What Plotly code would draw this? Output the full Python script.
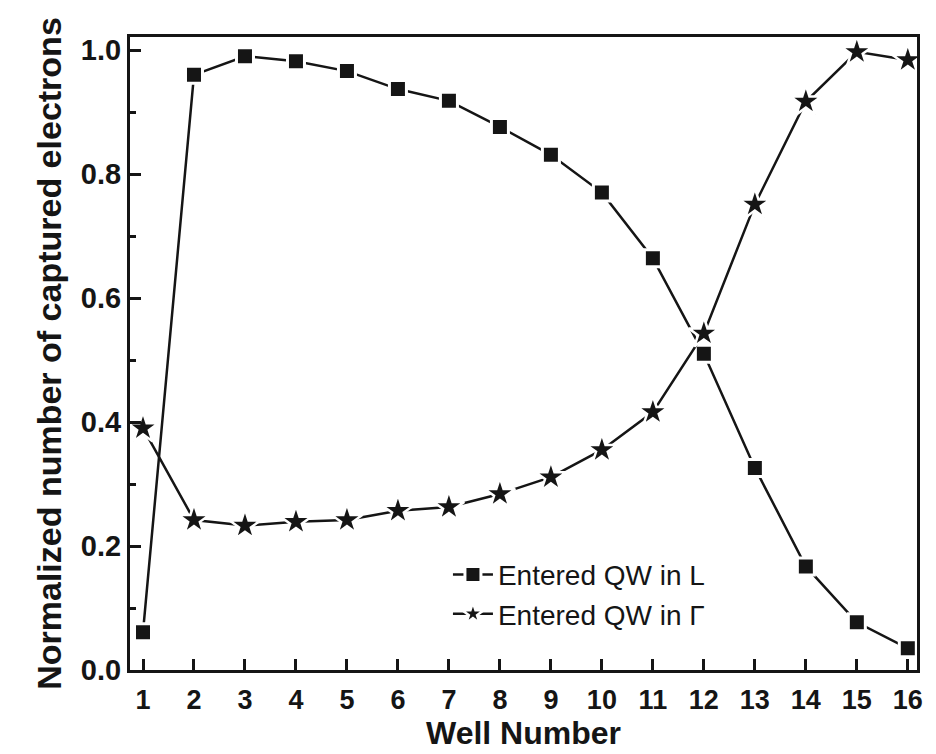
import plotly.graph_objects as go

# Well index along the structure
wells = list(range(1, 17))

# Normalized captured electrons: carriers entering the QW in the L valley
entered_L = [0.061, 0.960, 0.990, 0.982, 0.966, 0.937, 0.918, 0.876,
             0.831, 0.770, 0.664, 0.510, 0.326, 0.167, 0.077, 0.035]

# Normalized captured electrons: carriers entering the QW in the Gamma valley
entered_G = [0.390, 0.242, 0.233, 0.239, 0.242, 0.257, 0.263, 0.284,
             0.311, 0.355, 0.416, 0.543, 0.751, 0.917, 0.997, 0.984]

series_names = ["Entered QW in L", "Entered QW in \u0393"]

ink = "#151515"
font_family = "Liberation Sans, Arial, sans-serif"

fig = go.Figure()
fig.add_trace(go.Scatter(
    x=wells, y=entered_L, name=series_names[0], mode="lines+markers",
    line=dict(color=ink, width=2.5),
    marker=dict(symbol="square", size=17, color=ink,
                line=dict(color="white", width=3)),
))
fig.add_trace(go.Scatter(
    x=wells, y=entered_G, name=series_names[1], mode="lines+markers",
    line=dict(color=ink, width=2.5),
    marker=dict(symbol="star", size=23, color=ink,
                line=dict(color="white", width=2.5)),
))

fig.update_layout(
    width=936, height=754,
    margin=dict(l=130, r=19, t=37, b=81),
    paper_bgcolor="white", plot_bgcolor="white",
    font=dict(family=font_family, color=ink),
    showlegend=True,
    legend=dict(
        x=0.404, y=0.19, xanchor="left", yanchor="top",
        bgcolor="rgba(0,0,0,0)", borderwidth=0,
        font=dict(size=28, family=font_family, color=ink),
        tracegroupgap=0, itemwidth=40,
    ),
)

fig.update_xaxes(
    range=[0.745, 16.18], tickmode="array", tickvals=wells,
    ticktext=[str(w) for w in wells],
    ticks="inside", ticklen=11, tickwidth=2.5, tickcolor=ink,
    showline=True, linewidth=3, linecolor=ink, mirror=True,
    showgrid=False, zeroline=False, ticklabelstandoff=4,
    tickfont=dict(size=27, family=font_family, color=ink, weight="bold"),
    title=dict(text="Well Number", standoff=4,
               font=dict(size=32, family=font_family, color=ink, weight="bold")),
)

fig.update_yaxes(
    range=[0, 1.021], tickmode="array",
    tickvals=[0.0, 0.2, 0.4, 0.6, 0.8, 1.0],
    ticktext=["0.0", "0.2", "0.4", "0.6", "0.8", "1.0"],
    ticks="inside", ticklen=11, tickwidth=2.5, tickcolor=ink,
    minor=dict(tickvals=[0.1, 0.3, 0.5, 0.7, 0.9], ticks="inside",
               ticklen=6, tickwidth=2.5, tickcolor=ink),
    showline=True, linewidth=3, linecolor=ink, mirror=True,
    showgrid=False, zeroline=False,
    tickfont=dict(size=29, family=font_family, color=ink, weight="bold"),
    title=dict(text="Normalized number of captured electrons", standoff=9,
               font=dict(size=34, family=font_family, color=ink, weight="bold")),
)

fig.write_html("out.html")
